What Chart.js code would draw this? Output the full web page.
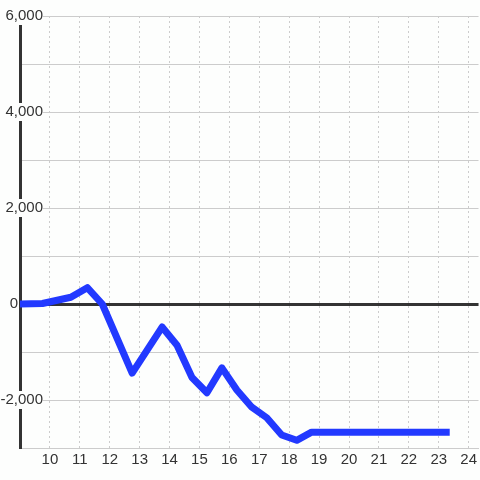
<!DOCTYPE html>
<html>
<head>
<meta charset="utf-8">
<script src="https://cdn.jsdelivr.net/npm/chart.js@4/dist/chart.umd.min.js"></script>
<style>
html,body{margin:0;padding:0;background:#fdfefd;}
#c{display:block;}
</style>
</head>
<body>
<canvas id="c" width="480" height="480"></canvas>
<script>
const xValues = [9, 9.75, 10.7, 11.25, 11.75, 12.75, 13.75, 14.25, 14.75, 15.25, 15.75, 16.25, 16.75, 17.25, 17.75, 18.25, 18.75, 23.25];
const yValues = [0, 10, 140, 340, 0, -1440, -480, -860, -1530, -1850, -1330, -1790, -2150, -2370, -2730, -2840, -2670, -2670];
const xTicks = [10, 11, 12, 13, 14, 15, 16, 17, 18, 19, 20, 21, 22, 23, 24];
const yTicks = [-3000, -2000, -1000, 0, 1000, 2000, 3000, 4000, 5000, 6000];
const yLabeled = [-2000, 0, 2000, 4000, 6000];

const BG = '#fdfefd';
const FONT = {family: "'Liberation Sans', Arial, sans-serif", size: 15};

const points = xValues.map((x, i) => ({x: x, y: yValues[i]}));

new Chart(document.getElementById('c'), {
  type: 'line',
  data: {
    datasets: [{
      data: points,
      borderColor: '#2239ff',
      borderWidth: 7,
      borderJoinStyle: 'round',
      borderCapStyle: 'square',
      pointRadius: 0,
      pointHoverRadius: 0,
      tension: 0,
      fill: false
    }]
  },
  options: {
    responsive: false,
    animation: false,
    events: [],
    layout: {padding: {top: 16, left: 0, right: 0, bottom: 0}},
    plugins: {legend: {display: false}, tooltip: {enabled: false}},
    scales: {
      x: {
        type: 'linear',
        min: 9,
        max: 24.33,
        afterBuildTicks: s => { s.ticks = xTicks.map(v => ({value: v})); },
        afterFit: s => { s.height = 32; },
        grid: {
          color: '#cccccc',
          lineWidth: 1,
          drawTicks: false
        },
        border: {display: true, color: '#cccccc', width: 1, dash: [2, 3]},
        ticks: {
          font: FONT,
          color: '#333333',
          padding: 3,
          maxRotation: 0,
          autoSkip: false,
          callback: v => String(v)
        }
      },
      y: {
        type: 'linear',
        min: -3000,
        max: 6000,
        afterBuildTicks: s => { s.ticks = yTicks.map(v => ({value: v})); },
        afterFit: s => { s.width = 20; s.paddingTop = 0; s.paddingBottom = 0; },
        grid: {
          color: c => (c.tick && c.tick.value === 0) ? '#333333' : '#cccccc',
          lineWidth: c => (c.tick && c.tick.value === 0) ? 3 : 1,
          drawTicks: false
        },
        border: {display: true, color: '#333333', width: 3},
        ticks: {
          font: FONT,
          color: '#333333',
          mirror: true,
          crossAlign: 'far',
          padding: -19.5,
          autoSkip: false,
          showLabelBackdrop: true,
          backdropPadding: 0,
          backdropColor: c => (c.tick && c.tick.value !== 0 && yLabeled.includes(c.tick.value)) ? BG : 'rgba(0,0,0,0)',
          callback: v => {
            if (!yLabeled.includes(v)) return '';
            if (v === 0) return '0      ';
            return v.toLocaleString('en-US');
          }
        }
      }
    }
  }
});
</script>
</body>
</html>
